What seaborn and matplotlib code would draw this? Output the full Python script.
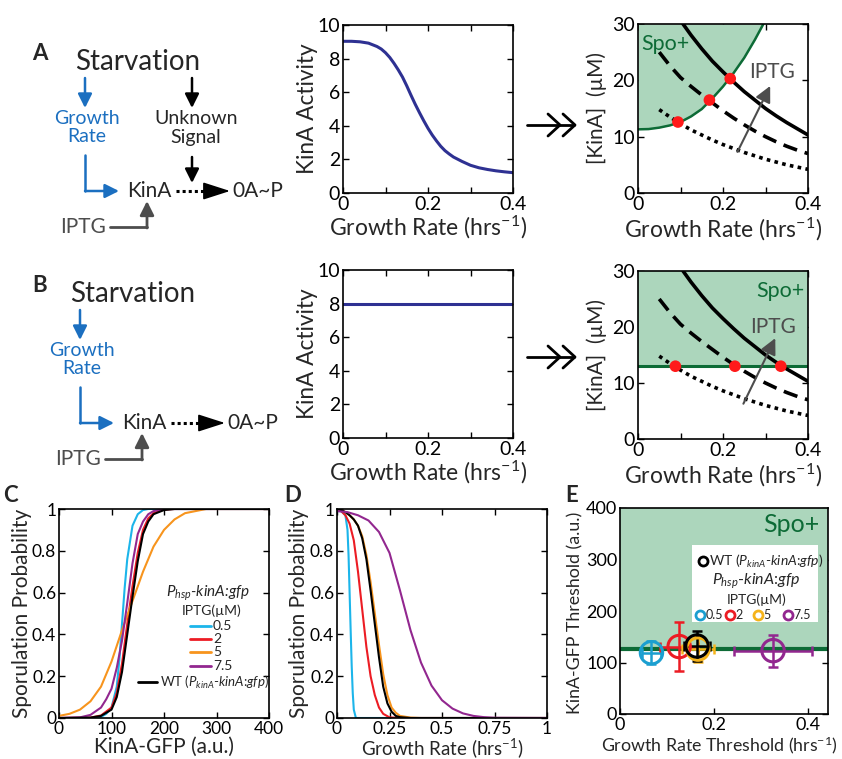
"""
KinA / growth-rate sporulation threshold figure (panels A-E)
"""
import matplotlib
matplotlib.use("Agg")
import matplotlib.pyplot as plt
import numpy as np
import pandas as pd
import seaborn as sns

# ---- data ----
# panel A middle: KinA activity vs growth rate
a_gr = [0, .02, .04, .06, .08, .09, .1, .11, .12, .13, .14, .15, .16, .17, .18, .19, .2,
        .21, .22, .23, .24, .25, .26, .28, .3, .32, .34, .36, .38, .4]
a_act = [9.03, 9.03, 9.0, 8.92, 8.72, 8.57, 8.35, 8.07, 7.72, 7.33, 6.9, 6.38, 5.82, 5.28,
         4.78, 4.3, 3.85, 3.45, 3.1, 2.78, 2.52, 2.32, 2.14, 1.88, 1.65, 1.5, 1.4, 1.32, 1.26, 1.21]
# panel B middle: constant KinA activity
b_gr = [0, 0.4]
b_act = [8.0, 8.0]

# KinA concentration curves for three IPTG levels (same in A and B)
solid_x = [0.106, 0.125, 0.15, 0.175, 0.2, 0.225, 0.25, 0.275, 0.3, 0.325, 0.35, 0.375, 0.4]
solid_y = [30, 28.0, 25.6, 23.4, 21.5, 19.7, 18.0, 16.5, 15.0, 13.7, 12.5, 11.4, 10.3]
dash_x = [0.05, 0.075, 0.1, 0.125, 0.15, 0.175, 0.2, 0.225, 0.25, 0.275, 0.3, 0.325, 0.35, 0.375, 0.4]
dash_y = [25, 22.6, 20.5, 18.9, 17.4, 16.0, 14.6, 13.3, 12.1, 11.0, 10.0, 9.1, 8.3, 7.6, 7.0]
dot_x = [0.05, 0.075, 0.1, 0.125, 0.15, 0.175, 0.2, 0.225, 0.25, 0.275, 0.3, 0.325, 0.35, 0.375, 0.4]
dot_y = [14.8, 13.5, 12.3, 11.2, 10.3, 9.4, 8.6, 7.9, 7.2, 6.6, 6.0, 5.5, 5.0, 4.6, 4.2]

# Spo+ boundary in A (growth-dependent) and B (flat)
spoA_x = [0, 0.025, 0.05, 0.075, 0.1, 0.125, 0.15, 0.175, 0.2, 0.225, 0.25, 0.275, 0.295]
spoA_y = [11.3, 11.35, 11.6, 12.0, 12.6, 13.6, 14.9, 16.8, 18.9, 21.3, 24.0, 27.2, 30]
spoB_level = 13.0
dotsA_x = [0.094, 0.168, 0.217]
dotsA_y = [12.6, 16.5, 20.3]
dotsB_x = [0.088, 0.228, 0.336]
dotsB_y = [13, 13, 13]

# panel C: sporulation probability vs KinA-GFP
iptg = ['0.5', '2', '5', '7.5']
c_blue_x = [0, 60, 80, 90, 100, 110, 115, 120, 125, 130, 140, 150, 160, 170, 400]
c_blue_y = [0, 0, 0.005, 0.02, 0.05, 0.15, 0.28, 0.45, 0.62, 0.76, 0.92, 0.975, 0.995, 1.0, 1.0]
c_red_x = [0, 60, 80, 100, 110, 120, 130, 140, 150, 160, 170, 180, 200, 220, 400]
c_red_y = [0, 0.002, 0.012, 0.05, 0.12, 0.26, 0.45, 0.63, 0.79, 0.9, 0.955, 0.98, 0.997, 1, 1]
c_orange_x = [0, 20, 40, 60, 80, 100, 120, 140, 160, 180, 200, 220, 240, 260, 280, 400]
c_orange_y = [0.01, 0.02, 0.04, 0.08, 0.15, 0.27, 0.42, 0.56, 0.70, 0.82, 0.90, 0.95, 0.98, 0.99, 1.0, 1.0]
c_purple_x = [0, 40, 60, 80, 90, 100, 110, 120, 130, 140, 150, 160, 170, 180, 200, 220, 400]
c_purple_y = [0, 0.003, 0.015, 0.05, 0.09, 0.14, 0.24, 0.37, 0.55, 0.74, 0.88, 0.94, 0.975, 0.99, 1.0, 1.0, 1.0]
c_wt_x = [0, 60, 80, 100, 110, 120, 130, 140, 150, 160, 170, 180, 200, 220, 400]
c_wt_y = [0, 0.002, 0.01, 0.04, 0.10, 0.22, 0.40, 0.58, 0.75, 0.88, 0.94, 0.975, 0.995, 1, 1]

# panel D: sporulation probability vs growth rate
d_blue_x = [0, 0.02, 0.04, 0.05, 0.055, 0.06, 0.065, 0.07, 0.075, 0.08, 0.09, 1]
d_blue_y = [0.99, 0.99, 0.97, 0.9, 0.78, 0.6, 0.42, 0.25, 0.12, 0.04, 0, 0]
d_red_x = [0, 0.02, 0.04, 0.06, 0.08, 0.1, 0.12, 0.14, 0.16, 0.18, 0.2, 0.22, 0.25, 0.3, 1]
d_red_y = [1, 0.99, 0.97, 0.93, 0.85, 0.7, 0.52, 0.34, 0.2, 0.11, 0.05, 0.02, 0.003, 0, 0]
d_orange_x = [0, .02, .04, .06, .08, .1, .12, .14, .16, .18, .2, .22, .24, .26, .28, .3, .35, .4, 1]
d_orange_y = [1, 0.995, 0.985, 0.97, 0.95, 0.92, 0.87, 0.78, 0.65, 0.5, 0.35, 0.21, 0.11, 0.05, 0.025, 0.01, 0.002, 0, 0]
d_purple_x = [0, .05, .1, .15, .2, .25, .3, .35, .4, .45, .5, .55, .6, .65, .7, .75, 1]
d_purple_y = [0.99, 0.985, 0.97, 0.945, 0.89, 0.79, 0.61, 0.42, 0.265, 0.155, 0.085, 0.045, 0.022, 0.01, 0.004, 0.001, 0]
d_wt_x = [0, .02, .04, .06, .08, .1, .12, .14, .16, .18, .2, .22, .24, .26, .28, .3, .35, 1]
d_wt_y = [1, 0.995, 0.985, 0.97, 0.95, 0.92, 0.86, 0.76, 0.61, 0.45, 0.29, 0.15, 0.07, 0.03, 0.01, 0.004, 0, 0]

# panel E: thresholds
e_names = ['0.5', '2', '5', '7.5', 'WT']
e_gr = [0.067, 0.126, 0.166, 0.326, 0.164]
e_gr_err = [0.02, 0.04, 0.035, 0.083, 0.028]
e_kin = [119, 131, 126, 123, 132]
e_kin_err = [22, 47, 25, 31, 29]
e_spo_level = 126

# ---- style ----
sns.set_theme(style="ticks")
plt.rcParams['font.family'] = ['Lato', 'DejaVu Sans']
plt.rcParams['mathtext.fontset'] = 'custom'
plt.rcParams['mathtext.rm'] = 'Lato'
plt.rcParams['mathtext.it'] = 'Lato:italic'
plt.rcParams['mathtext.bf'] = 'Lato:bold'

NAVY = '#2e3192'
DBLUE = '#1b6fc0'
GRAY = '#4d4d4d'
GREEN = '#0d6b36'
LGREEN = '#acd6bc'
cols_cd = ['#1cb5ea', '#ec1c24', '#f7941d', '#92278f', 'black']
cols_e = ['#1b9fd0', '#ec1c24', '#f5b31a', '#92278f', 'black']

W, H = 842, 759
fig = plt.figure(figsize=(W / 100, H / 100), dpi=100)


def add_ax(x0, y0, x1, y1):
    return fig.add_axes([x0 / W, 1 - y1 / H, (x1 - x0) / W, (y1 - y0) / H])


def style(ax, fs):
    ax.tick_params(direction='in', top=True, right=True, length=4, width=1,
                   labelsize=fs, pad=2, colors='black')
    for s in ax.spines.values():
        s.set_linewidth(1.2)
        s.set_color('black')


def line(ax, x, y, **kw):
    sns.lineplot(x=x, y=y, ax=ax, estimator=None, sort=False, **kw)


gr_label = 'Growth Rate (hrs$^{-1}$)'


def kin_panel(ax, spo):
    style(ax, 14)
    if spo == 'A':
        ax.fill_between(spoA_x, spoA_y, 30, color=LGREEN, lw=0)
        line(ax, spoA_x, spoA_y, color=GREEN, lw=1.8)
        dx, dy = dotsA_x, dotsA_y
    else:
        ax.fill_between([0, 0.4], spoB_level, 30, color=LGREEN, lw=0)
        ax.axhline(spoB_level, color=GREEN, lw=2.2)
        dx, dy = dotsB_x, dotsB_y
    line(ax, solid_x, solid_y, color='black', lw=2.6)
    line(ax, dash_x, dash_y, color='black', lw=2.6, linestyle=(0, (4, 2.2)))
    line(ax, dot_x, dot_y, color='black', lw=2.6, linestyle=(0, (1, 1.2)))
    sns.scatterplot(x=dx, y=dy, ax=ax, color='#ff1a1a', s=70, edgecolor='none', zorder=5)
    ax.set_xlim(0, 0.4)
    ax.set_ylim(0, 30)
    ax.set_xticks([0, 0.1, 0.2, 0.3, 0.4])
    ax.set_xticklabels(['0', '', '0.2', '', '0.4'])
    ax.set_yticks([0, 10, 20, 30])
    ax.set_yticklabels(['0', '10', '20', '30'])
    ax.set_xlabel(gr_label, fontsize=16.5)
    ax.xaxis.set_label_coords(0.5, -0.135)
    ax.set_ylabel('[KinA]  (µM)', fontsize=15)
    ax.yaxis.set_label_coords(-0.182, 0.5)


def act_panel(ax, x, y):
    style(ax, 14)
    line(ax, x, y, color=NAVY, lw=2.2)
    ax.set_xlim(0, 0.4)
    ax.set_ylim(0, 10)
    ax.set_xticks([0, 0.1, 0.2, 0.3, 0.4])
    ax.set_xticklabels(['0', '', '0.2', '', '0.4'])
    ax.set_yticks([0, 2, 4, 6, 8, 10])
    ax.set_yticklabels(['0', '2', '4', '6', '8', '10'])
    ax.set_xlabel(gr_label, fontsize=16.5)
    ax.xaxis.set_label_coords(0.5, -0.125)
    ax.set_ylabel('KinA Activity', fontsize=16.3)
    ax.yaxis.set_label_coords(-0.147, 0.5)


# panel A / B plots
axA1 = add_ax(343, 25, 513, 193)
act_panel(axA1, a_gr, a_act)
axA2 = add_ax(638, 24, 808, 193)
kin_panel(axA2, 'A')
axA2.text(0.008, 26.5, 'Spo+', color=GREEN, fontsize=15.5, va='center')
axA2.annotate('', xy=(0.311, 19.0), xytext=(0.234, 7.3),
              arrowprops=dict(arrowstyle='-|>,head_length=0.8,head_width=0.4',
                              color=GRAY, lw=1.5, shrinkA=0, shrinkB=0))
axA2.text(0.315, 21.4, 'IPTG', color=GRAY, fontsize=15, ha='center', va='center')

axB1 = add_ax(343, 270, 513, 438)
act_panel(axB1, b_gr, b_act)
axB2 = add_ax(638, 271, 808, 439)
kin_panel(axB2, 'B')
axB2.text(0.392, 26.5, 'Spo+', color=GREEN, fontsize=15.5, ha='right', va='center')
axB2.annotate('', xy=(0.323, 18.0), xytext=(0.248, 6.3),
              arrowprops=dict(arrowstyle='-|>,head_length=0.8,head_width=0.4',
                              color=GRAY, lw=1.5, shrinkA=0, shrinkB=0))
axB2.text(0.318, 20.0, 'IPTG', color=GRAY, fontsize=15, ha='center', va='center')

# panel C
axC = add_ax(59, 509, 269, 718)
style(axC, 12.5)
for xs, ys, c in zip([c_blue_x, c_red_x, c_orange_x, c_purple_x, c_wt_x],
                     [c_blue_y, c_red_y, c_orange_y, c_purple_y, c_wt_y], cols_cd):
    line(axC, xs, ys, color=c, lw=1.5)
axC.set_xlim(0, 400)
axC.set_ylim(0, 1)
axC.set_xticks([0, 100, 200, 300, 400])
axC.set_xticklabels(['0', '100', '200', '300', '400'])
axC.set_yticks([0, 0.2, 0.4, 0.6, 0.8, 1])
axC.set_yticklabels(['0', '0.2', '0.4', '0.6', '0.8', '1'])
axC.set_xlabel('KinA-GFP (a.u.)', fontsize=15)
axC.xaxis.set_label_coords(0.5, -0.09)
axC.set_ylabel('Sporulation Probability', fontsize=15)
axC.yaxis.set_label_coords(-0.13, 0.5)

# panel D
axD = add_ax(337, 509, 547, 718)
style(axD, 12.5)
for xs, ys, c in zip([d_blue_x, d_red_x, d_orange_x, d_wt_x, d_purple_x],
                     [d_blue_y, d_red_y, d_orange_y, d_wt_y, d_purple_y],
                     [cols_cd[0], cols_cd[1], cols_cd[2], cols_cd[4], cols_cd[3]]):
    line(axD, xs, ys, color=c, lw=1.5)
axD.set_xlim(0, 1)
axD.set_ylim(0, 1)
axD.set_xticks([0, 0.25, 0.5, 0.75, 1])
axD.set_xticklabels(['0', '0.25', '0.5', '0.75', '1'])
axD.set_yticks([0, 0.2, 0.4, 0.6, 0.8, 1])
axD.set_yticklabels(['0', '0.2', '0.4', '0.6', '0.8', '1'])
axD.set_xlabel(gr_label, fontsize=13.5)
axD.xaxis.set_label_coords(0.5, -0.088)
axD.set_ylabel('Sporulation Probability', fontsize=15)
axD.yaxis.set_label_coords(-0.132, 0.5)

# panel E
axE = add_ax(620, 508, 828, 714)
style(axE, 13)
axE.fill_between([0, 0.443], e_spo_level, 400, color=LGREEN, lw=0)
axE.axhline(e_spo_level, color=GREEN, lw=3)
df_e = pd.DataFrame({'name': e_names, 'gr': e_gr, 'kin': e_kin})
for i in range(len(e_names)):
    axE.errorbar(e_gr[i], e_kin[i], xerr=e_gr_err[i], yerr=e_kin_err[i], fmt='none',
                 ecolor=cols_e[i], elinewidth=1.8, capsize=3.5, capthick=1.8, zorder=3)
sns.scatterplot(data=df_e, x='gr', y='kin', hue='name', palette=cols_e, ax=axE,
                s=260, facecolor='none', linewidth=2.2, legend=False, zorder=4)
for coll in axE.collections[-1:]:
    coll.set_facecolor('none')
    coll.set_edgecolor(cols_e)
axE.set_xlim(0, 0.443)
axE.set_ylim(0, 400)
axE.set_xticks([0, 0.2, 0.4])
axE.set_xticklabels(['0', '0.2', '0.4'])
axE.set_yticks([0, 100, 200, 300, 400])
axE.set_yticklabels(['0', '100', '200', '300', '400'])
axE.set_xlabel('Growth Rate Threshold (hrs$^{-1}$)', fontsize=12.8)
axE.xaxis.set_label_coords(0.48, -0.1)
axE.set_ylabel('KinA-GFP Threshold (a.u.)', fontsize=12.8)
axE.yaxis.set_label_coords(-0.175, 0.49)
axE.text(0.425, 367, 'Spo+', color=GREEN, fontsize=18, ha='right', va='center')

# ---- overlay for diagrams, labels and hand-built legends (pixel coords) ----
ov = fig.add_axes([0, 0, 1, 1], zorder=10)
ov.set_xlim(0, W)
ov.set_ylim(H, 0)
ov.axis('off')


def arrow(x0, y0, x1, y1, color, lw=1.8, hl=0.7, hw=0.35):
    ov.annotate('', xy=(x1, y1), xytext=(x0, y0),
                arrowprops=dict(arrowstyle=f'-|>,head_length={hl},head_width={hw}',
                                color=color, lw=lw, shrinkA=0, shrinkB=0, mutation_scale=12))


def diagram(dy, dx, unknown):
    # dy, dx shift the whole scheme; unknown adds the second branch
    ov.text(40, 53 + dy, 'A' if unknown else 'B', fontsize=16, weight='bold', ha='center', va='center')
    ov.text(138 + dx, 62 + dy, 'Starvation', fontsize=20, ha='center', va='center')
    arrow(85 + dx, 78 + dy, 85 + dx, 108 + dy, DBLUE)
    ov.text(87 + dx, 118 + dy, 'Growth', color=DBLUE, fontsize=14, ha='center', va='center')
    ov.text(87 + dx, 137 + dy, 'Rate', color=DBLUE, fontsize=14, ha='center', va='center')
    ov.plot([85 + dx, 85 + dx], [155 + dy, 191 + dy], color=DBLUE, lw=1.8)
    arrow(85 + dx, 191 + dy, 119 + dx, 191 + dy, DBLUE)
    ov.text(149 + dx, 191 + dy, 'KinA', fontsize=15, ha='center', va='center')
    ov.plot([176 + dx, 213 + dx], [191 + dy, 191 + dy], color='black', lw=2.2, ls=(0, (1, 1)))
    arrow(210 + dx, 191 + dy, 230 + dx, 191 + dy, 'black', lw=1.2, hl=1.4, hw=0.45)
    ov.text(232 + dx, 191 + dy, '0A~P', fontsize=15, ha='left', va='center')
    ov.text(83 + dx, 227 + dy, 'IPTG', color=GRAY, fontsize=15, ha='center', va='center')
    ov.plot([110 + dx, 147 + dx], [227 + dy, 227 + dy], color=GRAY, lw=2)
    arrow(147 + dx, 228 + dy, 147 + dx, 201 + dy, GRAY, lw=2)
    if unknown:
        arrow(192, 78, 192, 108, 'black')
        ov.text(196, 118, 'Unknown', fontsize=14, ha='center', va='center')
        ov.text(196, 137, 'Signal', fontsize=14, ha='center', va='center')
        arrow(192, 157, 192, 183, 'black')


diagram(0, 0, True)
diagram(232, -5, False)


def double_arrow(y):
    ov.plot([527, 574], [y, y], color='black', lw=2)
    for tip in (560, 575):
        ov.plot([tip - 12, tip, tip - 12], [y - 11, y, y + 11], color='black', lw=2)


double_arrow(125)
double_arrow(357)

for lab, x in zip('CDE', (10, 293, 572)):
    ov.text(x, 495, lab, fontsize=16, weight='bold', ha='center', va='center')

# panel C legend
ov.text(208, 593, '$P_{hsp}$-$kinA$:$gfp$', fontsize=11, ha='center', va='center', style='italic')
ov.text(212, 611, 'IPTG(µM)', fontsize=10, ha='center', va='center')
for lab, c, y in zip(iptg, cols_cd, (626, 639, 652, 666)):
    ov.plot([190, 211], [y, y], color=c, lw=2)
    ov.text(213, y, lab, fontsize=10, ha='left', va='center')
ov.plot([138, 157], [682, 682], color='black', lw=2)
ov.text(160, 682, 'WT ($P_{kinA}$-$kinA$:$gfp$)', fontsize=9.5, ha='left', va='center')

# panel E legend
ov.add_patch(plt.Rectangle((692, 545), 126, 77, facecolor='white', edgecolor='none', zorder=1))
ov.plot([703], [561], 'o', ms=6.5, mfc='white', mec='black', mew=2, zorder=2)
ov.text(709, 561, 'WT ($P_{kinA}$-$kinA$:$gfp$)', fontsize=10, ha='left', va='center', zorder=2)
ov.text(756, 581, '$P_{hsp}$-$kinA$:$gfp$', fontsize=11.5, ha='center', va='center', zorder=2)
ov.text(757, 600, 'IPTG(µM)', fontsize=10, ha='center', va='center', zorder=2)
for lab, c, x in zip(iptg, cols_e, (700, 730, 758, 788)):
    ov.plot([x], [615], 'o', ms=6.5, mfc='white', mec=c, mew=2, zorder=2)
    ov.text(x + 5.5, 615, lab, fontsize=9, ha='left', va='center', zorder=2)

fig.savefig('out.png', dpi=100)
